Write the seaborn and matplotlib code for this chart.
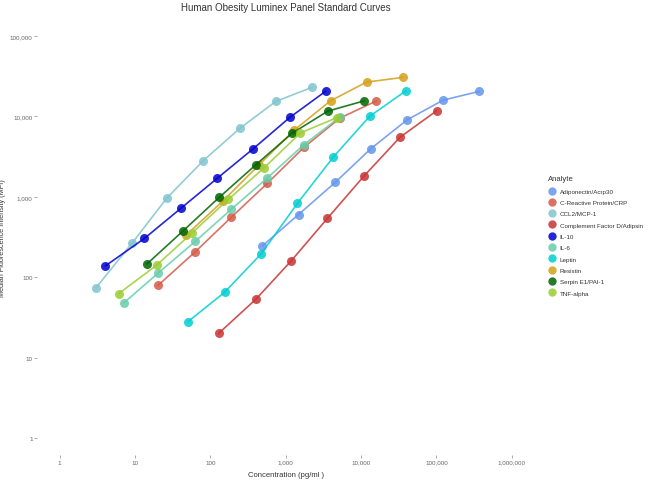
import numpy as np
import pandas as pd
import seaborn as sns
import matplotlib.pyplot as plt
from matplotlib.lines import Line2D
from matplotlib.ticker import FixedLocator, NullLocator

# values (concentration pg/ml, MFI)
adiponectin_conc = [492, 1480, 4530, 13600, 40900, 123000, 370000]
adiponectin_mfi = [245, 602, 1507, 3990, 9070, 15960, 20480]

crp_conc = [20.2, 63.4, 190, 573, 1740, 5230, 15880]
crp_mfi = [79, 208, 557, 1476, 4110, 9530, 15520]

ccl2_conc = [3.04, 9.12, 26.4, 81, 246, 739, 2220]
ccl2_mfi = [74, 264, 962, 2830, 7100, 15380, 22970]

cfd_conc = [129, 401, 1194, 3590, 10900, 33000, 100700]
cfd_mfi = [20, 53, 161, 541, 1805, 5520, 11740]

il10_conc = [4.04, 13.3, 41.3, 124, 374, 1134, 3410]
il10_mfi = [138, 303, 728, 1706, 3990, 9720, 20650]

il6_conc = [7.14, 20.2, 63.4, 190, 573, 1740, 5230]
il6_mfi = [48, 112, 280, 701, 1720, 4450, 9800]

leptin_conc = [50.6, 155, 477, 1435, 4310, 12970, 39400]
leptin_mfi = [28, 65, 197, 832, 3140, 10000, 20840]

resistin_conc = [47.6, 146, 439, 1309, 3936, 11830, 35900]
resistin_mfi = [333, 881, 2477, 6810, 15630, 26740, 30600]

serpin_conc = [14.4, 43, 132, 401, 1213, 3620, 11000]
serpin_mfi = [146, 373, 989, 2500, 6160, 11640, 15630]

tnf_conc = [6.08, 19.4, 57.8, 174, 523, 1573, 4730]
tnf_mfi = [62.5, 141, 359, 933, 2315, 6240, 9610]

analytes = ["Adiponectin/Acrp30", "C-Reactive Protein/CRP", "CCL2/MCP-1",
            "Complement Factor D/Adipsin", "IL-10", "IL-6", "Leptin",
            "Resistin", "Serpin E1/PAI-1", "TNF-alpha"]
series = [(adiponectin_conc, adiponectin_mfi), (crp_conc, crp_mfi),
          (ccl2_conc, ccl2_mfi), (cfd_conc, cfd_mfi), (il10_conc, il10_mfi),
          (il6_conc, il6_mfi), (leptin_conc, leptin_mfi),
          (resistin_conc, resistin_mfi), (serpin_conc, serpin_mfi),
          (tnf_conc, tnf_mfi)]
colors = ["#6495ED", "#D45A45", "#80C4CE", "#C93333", "#0000CD",
          "#66CDAA", "#00CED1", "#D4A017", "#006400", "#9ACD32"]

x_ticks = [1, 10, 100, 1000, 10000, 100000, 1000000]
y_ticks = [1, 10, 100, 1000, 10000, 100000]

rows = []
for name, (xs, ys) in zip(analytes, series):
    for c, m in zip(xs, ys):
        rows.append([name, c, m])
df = pd.DataFrame(rows, columns=["Analyte", "Concentration", "MFI"])

sns.set_theme(style="white")
plt.rcParams['font.family'] = ['Liberation Sans', 'DejaVu Sans']

fig = plt.figure(figsize=(6.5, 4.81), dpi=100)
ax = fig.add_axes([0.057, 0.0457, 0.765, 0.919])

palette = dict(zip(analytes, colors))
sns.lineplot(data=df, x="Concentration", y="MFI", hue="Analyte",
             palette=palette, marker="o", markersize=6.5, markeredgewidth=0,
             linewidth=1.2, alpha=0.85, sort=True, estimator=None, ax=ax,
             legend=False)

ax.set_xscale("log")
ax.set_yscale("log")
ax.set_xlim(10 ** -0.3, 10 ** 6.3)
ax.set_ylim(10 ** -0.25, 10 ** 5.25)
ax.xaxis.set_major_locator(FixedLocator(x_ticks))
ax.yaxis.set_major_locator(FixedLocator(y_ticks))
ax.xaxis.set_minor_locator(NullLocator())
ax.yaxis.set_minor_locator(NullLocator())
ax.set_xticklabels([f"{v:,}" for v in x_ticks])
ax.set_yticklabels([f"{v:,}" for v in y_ticks])

for s in ax.spines.values():
    s.set_visible(False)
ax.tick_params(axis="both", length=2, width=0.5, color="#888888",
               labelsize=4.5, labelcolor="#666666", pad=1.2)
ax.tick_params(axis="x", bottom=True, direction="in")
ax.tick_params(axis="y", left=True)

ax.set_xlabel("Concentration (pg/ml )", fontsize=5.5, color="#333333")
ax.xaxis.set_label_coords(0.5, -0.03)
ax.set_ylabel("Median Fluorescence Intensity (MFI)", fontsize=5.2,
              color="#333333")
ax.yaxis.set_label_coords(-0.062, 0.5)
ax.set_title("Human Obesity Luminex Panel Standard Curves", fontsize=7,
             color="#333333", pad=4)

handles = [Line2D([], [], linestyle="none", marker="o", markersize=6,
                  markeredgewidth=0, color=c, alpha=0.85) for c in colors]
leg = ax.legend(handles, analytes, title="Analyte", loc="upper left",
                bbox_to_anchor=(0.835, 0.645), bbox_transform=fig.transFigure,
                frameon=False, fontsize=4.5, title_fontsize=5.5,
                labelspacing=0.95, handletextpad=0.6, handlelength=1.2,
                alignment="left")
for t in leg.get_texts():
    t.set_color("#333333")
leg.get_title().set_color("#333333")

fig.savefig("out.png", dpi=100)
